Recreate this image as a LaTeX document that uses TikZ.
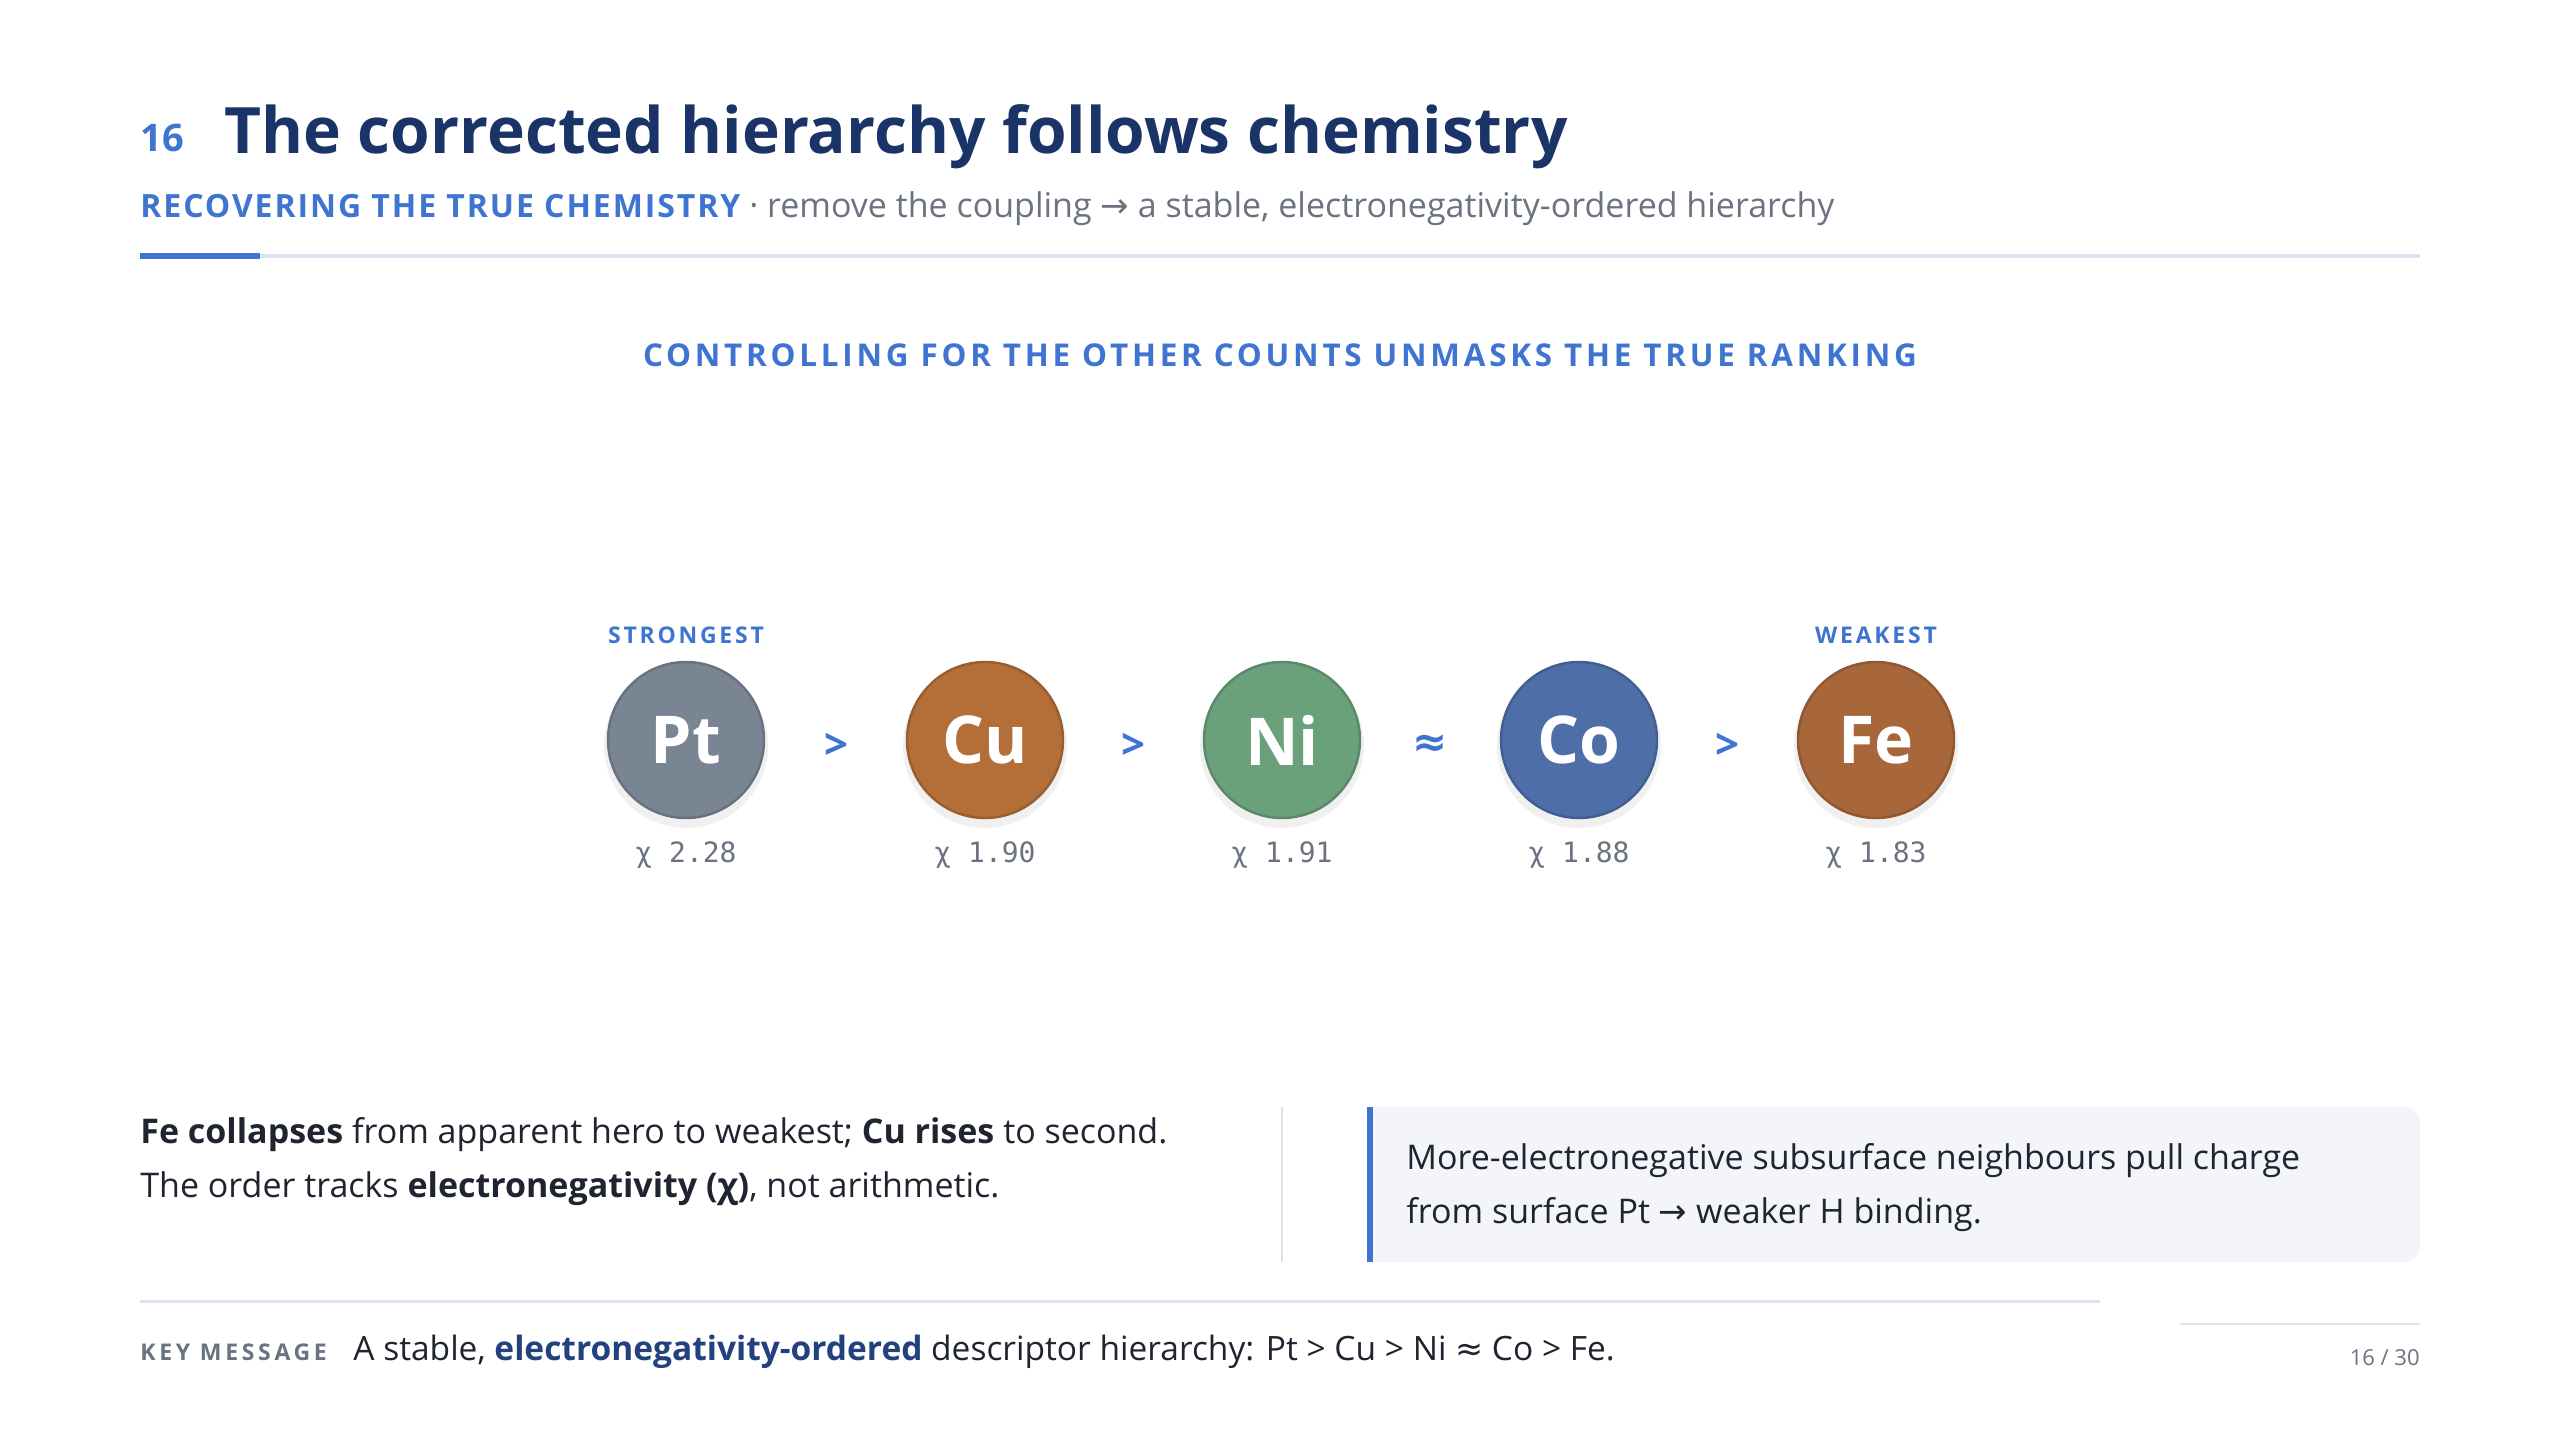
\documentclass[tikz,border=0pt]{standalone}
\usepackage{fontspec}
\setmainfont{Open Sans}
\setmonofont{DejaVu Sans Mono}
\newfontfamily\symfont{DejaVu Sans}
\usetikzlibrary{positioning}
\definecolor{navy}{HTML}{1B3468}
\definecolor{accent}{HTML}{3F74D1}
\definecolor{subgray}{HTML}{6B7280}
\definecolor{ink}{HTML}{1F2430}
\definecolor{rulegray}{HTML}{DCE3F0}
\definecolor{boxfill}{HTML}{F3F5F9}
\definecolor{ptcol}{HTML}{7A8594}
\definecolor{cucol}{HTML}{B46F38}
\definecolor{nicol}{HTML}{6AA07A}
\definecolor{cocol}{HTML}{4E6EA8}
\definecolor{fecol}{HTML}{A8673A}
\newcommand{\spaced}[2][12]{{\addfontfeatures{LetterSpace=#1}#2}}
\newcommand{\arr}{{\symfont →}}
\newcommand{\approxsym}{{\symfont ≈}}
\tikzset{
  txt/.style={inner sep=0pt, anchor=base west},
  elem/.style={circle, minimum size=78pt, inner sep=0pt, text=white,
    font=\fontsize{33}{33}\selectfont\bfseries, line width=1.2pt},
  rel/.style={inner sep=0pt, text=accent, font=\fontsize{21}{21}\selectfont\bfseries},
  chival/.style={inner sep=0pt, text=subgray, font=\fontsize{14}{14}\selectfont\ttfamily},
  tag/.style={inner sep=0pt, text=accent, font=\fontsize{11.5}{11.5}\selectfont\bfseries},
  body/.style={txt, text=ink, align=left, font=\fontsize{17}{27}\selectfont}
}
\begin{document}
\begin{tikzpicture}[x=0.5pt, y=-0.5pt]
  \useasboundingbox[fill=white] (0,0) rectangle (2560,1440);
  % header
  \node[txt, text=accent, font=\fontsize{19}{19}\selectfont\bfseries] (num) at (140,151) {16};
  \node[txt, text=navy, font=\fontsize{32}{32}\selectfont\bfseries] (title) at (224,153) {The corrected hierarchy follows chemistry};
  \node[txt, font=\fontsize{17}{17}\selectfont] (sub) at (140,217)
    {{\color{accent}\fontsize{16}{16}\selectfont\bfseries\spaced[6]{RECOVERING THE TRUE CHEMISTRY}} {\color{subgray}· remove the coupling \arr{} a stable, electronegativity-ordered hierarchy}};
  \fill[rulegray] (140,254) rectangle (2420,258);
  \fill[accent] (140,253) rectangle (260,259);

  \node[inner sep=0pt, anchor=base, text=accent, font=\fontsize{15.7}{15.7}\selectfont\bfseries] (head) at (1280,366)
    {\spaced{CONTROLLING FOR THE OTHER COUNTS UNMASKS THE TRUE RANKING}};

  % ranking
  \begin{scope}
    \foreach \x in {686,985,1282,1579,1876}
      \fill[black, opacity=0.06] (\x,746) circle (82);
    \node[elem, fill=ptcol, draw=ptcol!85!black] (pt) at (686,740) {Pt};
    \node[elem, fill=cucol, draw=cucol!85!black] (cu) at (985,740) {Cu};
    \node[elem, fill=nicol, draw=nicol!85!black] (ni) at (1282,740) {Ni};
    \node[elem, fill=cocol, draw=cocol!85!black] (co) at (1579,740) {Co};
    \node[elem, fill=fecol, draw=fecol!85!black] (fe) at (1876,740) {Fe};
  \end{scope}
  \node[rel] (r1) at (836,746) {>};
  \node[rel] (r2) at (1133,746) {>};
  \node[rel] (r3) at (1430,746) {\approxsym};
  \node[rel] (r4) at (1727,746) {>};
  \node[tag] (strong) at (686,635) {\spaced{STRONGEST}};
  \node[tag] (weak) at (1876,635) {\spaced{WEAKEST}};
  \node[chival, below=11pt of pt] (xpt) {χ 2.28};
  \node[chival, below=11pt of cu] (xcu) {χ 1.90};
  \node[chival, below=11pt of ni] (xni) {χ 1.91};
  \node[chival, below=11pt of co] (xco) {χ 1.88};
  \node[chival, below=11pt of fe] (xfe) {χ 1.83};

  % notes
  \node[body] (note) at (140,1197)
    {\textbf{Fe collapses} from apparent hero to weakest; \textbf{Cu rises} to second.\\
     The order tracks \textbf{electronegativity (χ)}, not arithmetic.};
  \draw[rulegray, line width=1pt] (1282,1107) -- (1282,1262);
  \fill[boxfill, rounded corners=8pt] (1367,1107) rectangle (2420,1262);
  \fill[boxfill] (1367,1107) rectangle (1420,1262);
  \fill[accent] (1367,1107) rectangle (1373,1262);
  \node[body] (why) at (1406,1223)
    {More-electronegative subsurface neighbours pull charge\\
     from surface Pt \arr{} weaker H binding.};

  % footer
  \draw[rulegray, line width=1.5pt] (140,1301) -- (2100,1301);
  \draw[rulegray, line width=1pt] (2180,1324) -- (2420,1324);
  \node[txt, text=subgray, font=\fontsize{11.5}{11.5}\selectfont\bfseries] (key) at (140,1360) {\spaced[16]{KEY MESSAGE}};
  \node[txt, text=ink, font=\fontsize{16.75}{16.75}\selectfont] (msg) at (353,1360)
    {A stable, \textbf{\color{navy!80!accent}electronegativity-ordered} descriptor hierarchy: Pt > Cu > Ni \approxsym{} Co > Fe.};
  \node[inner sep=0pt, anchor=base east, text=subgray, font=\fontsize{11}{11}\selectfont] (page) at (2420,1365) {16 / 30};
\end{tikzpicture}
\end{document}
